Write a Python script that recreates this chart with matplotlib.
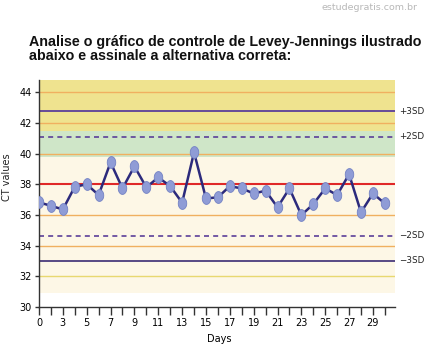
import matplotlib
matplotlib.use("Agg")
import matplotlib.pyplot as plt
import numpy as np
from matplotlib.path import Path

# ---- data ----
days = list(range(30))
ct_values = [36.82, 36.6, 36.36, 37.84, 38.0, 37.3, 39.43, 37.73, 39.17, 37.8,
             38.45, 37.88, 36.8, 40.08, 37.08, 37.15, 37.88, 37.73, 37.4, 37.58,
             36.5, 37.73, 35.99, 36.71, 37.73, 37.3, 38.66, 36.17, 37.4, 36.75]
xtick_pos = list(range(0, 29, 2))
xtick_labels = ['0', '3', '5', '7', '9', '11', '13', '15', '17', '19', '21', '23', '25', '27', '29']
ytick_vals = [30, 32, 34, 36, 38, 40, 42, 44]
sd_levels = {'+3SD': 42.75, '+2SD': 41.1, 'mean': 38.0, '\u22122SD': 34.65, '\u22123SD': 33.0}
grid_orange = [44, 42, 40, 36, 34]
grid_yellow = [32]

tickfont = 'DejaVu Sans'

fig = plt.figure(figsize=(4.25, 3.63), dpi=100)
W, H = 425, 363
L, R, B, T = 39, 395, 307, 80
ax = fig.add_axes([L / W, 1 - B / H, (R - L) / W, (B - T) / H])
ax.set_xlim(0, 29.85)
ax.set_ylim(30, 44.8)

# background bands
ax.axhspan(30.9, 39.8, color='#fdf7e6', zorder=0, lw=0)
ax.axhspan(39.8, 41.5, color='#cfe6c8', zorder=0, lw=0)
ax.axhspan(41.5, 44.8, color='#efe38f', zorder=0, lw=0)

for y in grid_orange:
    ax.axhline(y, color='#f0b060', lw=1.0, zorder=1)
for y in grid_yellow:
    ax.axhline(y, color='#e8d870', lw=1.0, zorder=1)

purple = '#5b3f99'
ax.axhline(sd_levels['+3SD'], color=purple, lw=1.3, zorder=2)
ax.axhline(sd_levels['+2SD'], color=purple, lw=1.2, ls=(0, (3, 2.5)), zorder=2)
ax.axhline(sd_levels['mean'], color='#e02828', lw=1.5, zorder=2)
ax.axhline(sd_levels['\u22122SD'], color=purple, lw=1.2, ls=(0, (3, 2.5)), zorder=2)
ax.axhline(sd_levels['\u22123SD'], color='#4a3b7c', lw=1.3, zorder=2)

# ellipse marker
t = np.linspace(0, 2 * np.pi, 40)
verts = np.column_stack([0.72 * np.cos(t), np.sin(t)])
ell = Path(verts, closed=True)

ax.plot(days, ct_values, color='#2c2a7c', lw=1.8, zorder=3,
        marker=ell, markersize=8.5, markerfacecolor='#8f9cd6', markeredgecolor='#7382c4',
        markeredgewidth=0.6)

for lab in ['+3SD', '+2SD', '\u22122SD', '\u22123SD']:
    ax.text(1.012, sd_levels[lab], lab, transform=ax.get_yaxis_transform(),
            va='center', ha='left', fontsize=6.3, family=tickfont, color='#222222')

for s in ['top', 'right']:
    ax.spines[s].set_visible(False)
for s in ['left', 'bottom']:
    ax.spines[s].set_color('#333333')
    ax.spines[s].set_linewidth(1.0)

ax.set_xticks(xtick_pos)
ax.set_xticks([p for p in range(30) if p not in xtick_pos], minor=True)
ax.set_xticklabels(xtick_labels, family=tickfont, fontsize=7)
ax.tick_params(axis='x', which='both', direction='out', length=6, width=1, color='#333333', pad=2)
ax.set_yticks(ytick_vals)
ax.set_yticklabels([str(v) for v in ytick_vals], family=tickfont, fontsize=7)
ax.tick_params(axis='y', direction='out', length=3, width=1, color='#333333', pad=2)

ax.set_ylabel('CT values', fontsize=7, family='DejaVu Sans', color='#222222')
ax.yaxis.set_label_coords(-0.075, 0.57)
fig.text(219 / W, 1 - 339 / H, 'Days', ha='center', va='center', fontsize=7, family=tickfont)

fig.text(29 / W, 1 - 35 / H, 'Analise o gráfico de controle de Levey-Jennings ilustrado\nabaixo e assinale a alternativa correta:',
         ha='left', va='top', fontsize=10.3, fontweight='bold', family='Liberation Sans',
         linespacing=1.0, color='#111111')
fig.text(418 / W, 1 - 8 / H, 'estudegratis.com.br', ha='right', va='center', fontsize=6.8,
         color='#b8b8b8', family='DejaVu Sans')

fig.savefig('out.png', dpi=100)
